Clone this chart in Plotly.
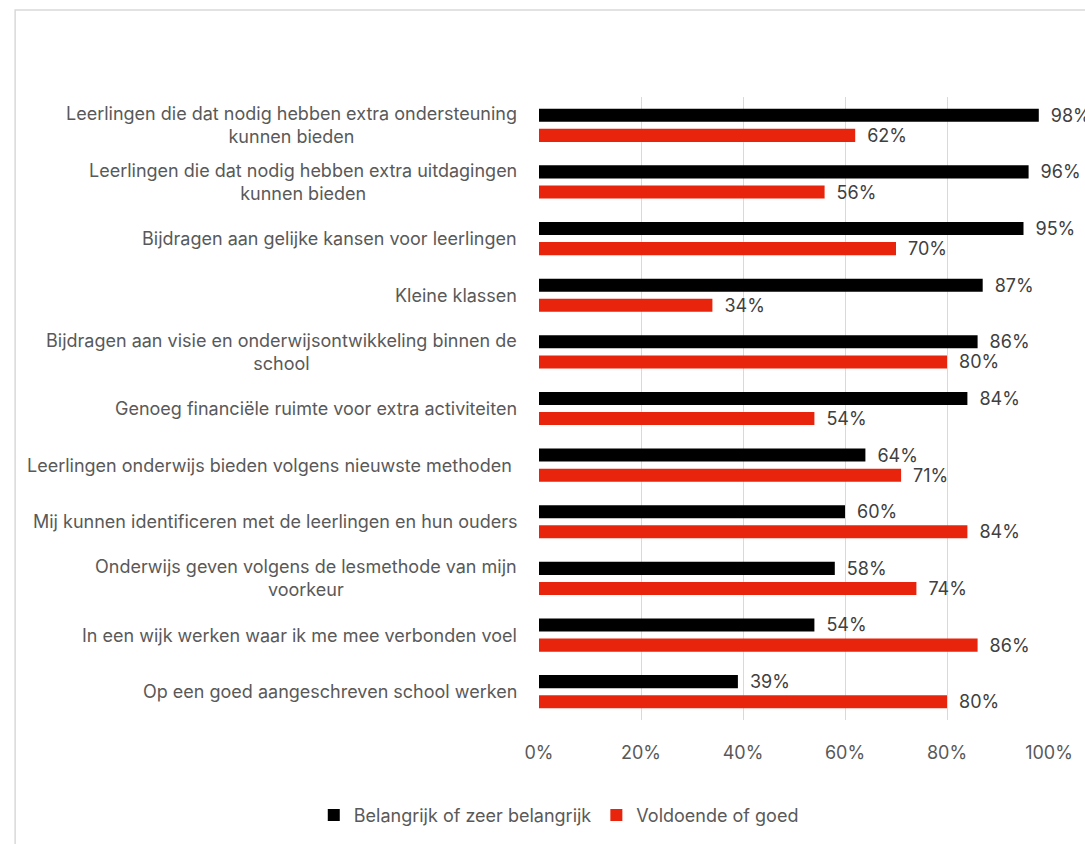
import plotly.graph_objects as go

categories = [
    "Leerlingen die dat nodig hebben extra ondersteuning<br>kunnen bieden",
    "Leerlingen die dat nodig hebben extra uitdagingen<br>kunnen bieden",
    "Bijdragen aan gelijke kansen voor leerlingen",
    "Kleine klassen",
    "Bijdragen aan visie en onderwijsontwikkeling binnen de<br>school",
    "Genoeg financiële ruimte voor extra activiteiten",
    "Leerlingen onderwijs bieden volgens nieuwste methoden ",
    "Mij kunnen identificeren met de leerlingen en hun ouders",
    "Onderwijs geven volgens de lesmethode van mijn<br>voorkeur",
    "In een wijk werken waar ik me mee verbonden voel",
    "Op een goed aangeschreven school werken",
]
belangrijk = [98, 96, 95, 87, 86, 84, 64, 60, 58, 54, 39]
voldoende = [62, 56, 70, 34, 80, 54, 71, 84, 74, 86, 80]
series_names = ["Belangrijk of zeer belangrijk", "Voldoende of goed"]
tick_vals = [0, 20, 40, 60, 80, 100]
tick_text = ["0%", "20%", "40%", "60%", "80%", "100%"]

FONT = "Inter"
FS = 18
TICK_COLOR = "#595959"
LABEL_COLOR = "#404040"
W, H = 1085, 844
L, R, T, B = 539, 31, 97, 124

fig = go.Figure()
for name, vals, color in [
    (series_names[0], belangrijk, "#000000"),
    (series_names[1], voldoende, "#e8250c"),
]:
    fig.add_trace(go.Bar(
        name=name,
        y=categories,
        x=vals,
        orientation="h",
        marker=dict(color=color, line=dict(width=0)),
        text=[f"\u2002{v}%" for v in vals],
        textposition="outside",
        textfont=dict(family=FONT, size=FS, color=LABEL_COLOR),
        constraintext="none",
        cliponaxis=False,
        hoverinfo="skip",
    ))

# category labels: right-aligned block, lines centred within it
for cat in categories:
    fig.add_annotation(
        x=0, xref="paper", y=cat, yref="y",
        text=cat, showarrow=False,
        xanchor="right", align="center", xshift=-20,
        font=dict(family=FONT, size=FS, color=TICK_COLOR),
    )

# light frame around the chart area
plot_w = W - L - R
plot_h = H - T - B
fig.add_shape(
    type="rect", xref="paper", yref="paper",
    x0=(10 - L) / plot_w, x1=1.3,
    y0=-0.5, y1=1 + (T - 10) / plot_h,
    line=dict(color="#d9d9d9", width=1.5), fillcolor="rgba(0,0,0,0)",
    layer="below",
)

fig.update_layout(
    width=W, height=H,
    margin=dict(l=L, r=R, t=T, b=B),
    paper_bgcolor="white", plot_bgcolor="white",
    barmode="group", bargap=0.29, bargroupgap=0.35,
    font=dict(family=FONT, size=FS, color=TICK_COLOR),
    xaxis=dict(
        range=[0, 100], tickvals=tick_vals, ticktext=tick_text,
        showgrid=True, gridcolor="#d9d9d9", gridwidth=1,
        zeroline=False, showline=False, ticks="",
        tickfont=dict(family=FONT, size=FS, color=TICK_COLOR),
        ticklabelstandoff=20,
        fixedrange=True,
    ),
    yaxis=dict(
        autorange="reversed", showticklabels=False, showgrid=False,
        zeroline=False, showline=False, ticks="", fixedrange=True,
    ),
    legend=dict(
        orientation="h", xref="container", yref="container",
        x=0.515, xanchor="center", y=0.034, yanchor="middle",
        font=dict(family=FONT, size=FS, color=TICK_COLOR),
        itemwidth=30, traceorder="normal",
    ),
    showlegend=True,
)

fig.write_html("out.html")
